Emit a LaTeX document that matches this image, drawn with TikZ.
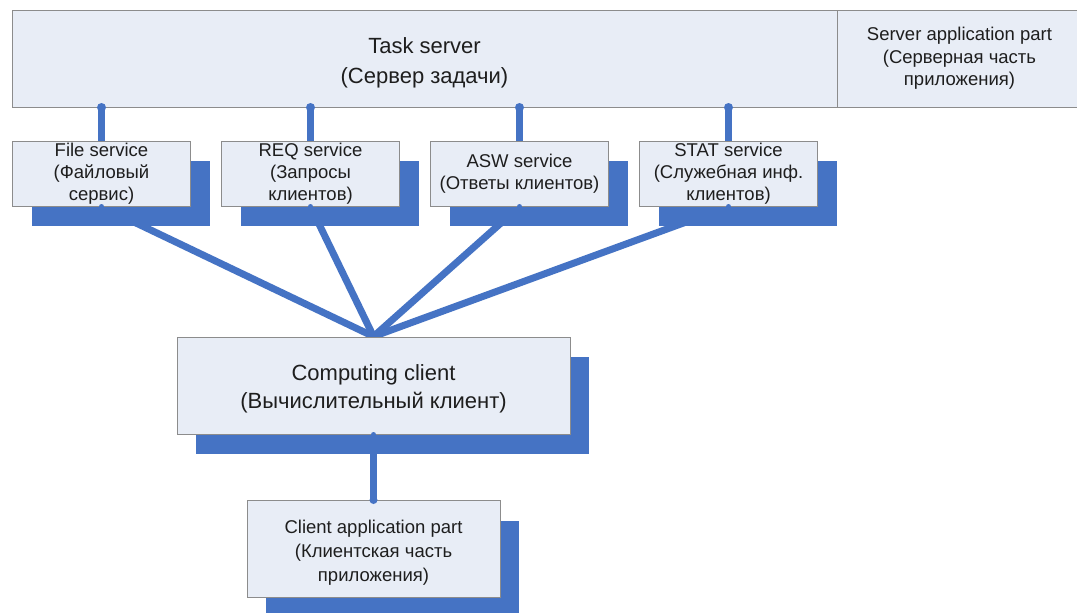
\documentclass[tikz,border=0pt]{standalone}
\usepackage{fontspec}
\setmainfont{Liberation Sans}
\usetikzlibrary{shadows,backgrounds}
\definecolor{boxfill}{HTML}{E8EDF6}
\definecolor{boxline}{HTML}{8C8C8C}
\definecolor{linkblue}{HTML}{4573C4}
\definecolor{txt}{HTML}{1E1E1E}
\tikzset{
  panel/.style={draw=boxline, line width=1pt, fill=boxfill, text=txt, inner sep=0pt, align=center, anchor=center},
  shadowed/.style={drop shadow={shadow xshift=19pt, shadow yshift=-20pt, fill=linkblue, opacity=1}},
  svcbox/.style={panel, shadowed, minimum width=178pt, minimum height=65pt, font=\fontsize{18.5}{22}\selectfont},
  link/.style={draw=linkblue, line width=7pt, line cap=round},
  dotmark/.style={fill=linkblue},
}
\begin{document}
\begin{tikzpicture}[x=1pt,y=-1pt]
\useasboundingbox (0,0) rectangle (1077,613);
\clip (0,0) rectangle (1077,613);
% top band
\node[panel, font=\fontsize{22}{30}\selectfont, minimum width=825pt, minimum height=97pt] (ts) at (424.5,58.5) {\rule{0pt}{25pt}Task server\\(Сервер задачи)};
\node[panel, minimum width=245pt, minimum height=97pt, font=\fontsize{18.5}{22.5}\selectfont] (sap) at (959.5,58.5) {Server application part\\(Серверная часть\\приложения)};
% services
\node[svcbox] (file) at (101.5,173.5) {File service\\(Файловый\\сервис)};
\node[svcbox] (req) at (310.5,173.5) {REQ service\\(Запросы\\клиентов)};
\node[svcbox] (asw) at (519.5,173.5) {ASW service\\(Ответы клиентов)};
\node[svcbox] (stat) at (728.5,173.5) {STAT service\\(Служебная инф.\\клиентов)};
% computing client
\node[panel, shadowed, font=\fontsize{22}{28}\selectfont, minimum width=393pt, minimum height=97pt] (cc) at (373.5,385.5) {\rule{0pt}{23pt}Computing client\\(Вычислительный клиент)};
% client application part
\node[panel, shadowed, minimum width=253pt, minimum height=97pt, font=\fontsize{18.5}{24}\selectfont] (client) at (373.5,549) {\rule{0pt}{21.5pt}Client application part\\(Клиентская часть\\приложения)};
% connectors behind the boxes
\begin{pgfonlayer}{background}
  \fill[white] (0,0) rectangle (1077,613);
  \foreach \s in {file,req,asw,stat}{
    \draw[link] (ts.south -| \s.north) -- (\s.north);
    \draw[link] (\s.south) -- (cc.north);
  }
  \draw[link] (cc.south) -- (client.north);
\end{pgfonlayer}
% joint dots
\foreach \s in {file,req,asw,stat}{
  \fill[dotmark] (ts.south -| \s.north) circle (4.5);
  \fill[dotmark] (\s.south) circle (2.5);
}
\fill[dotmark] (cc.south) circle (2.5);
\fill[dotmark] (client.north) circle (4);
\end{tikzpicture}
\end{document}
